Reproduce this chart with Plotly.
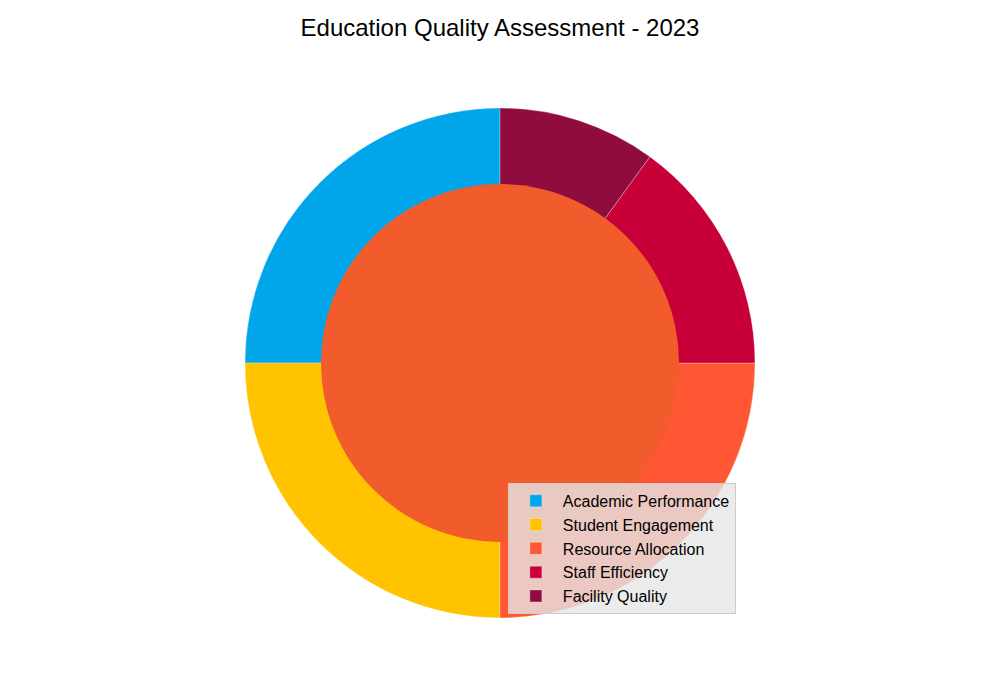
import plotly.graph_objects as go

categories = ["Academic Performance", "Student Engagement", "Resource Allocation",
              "Staff Efficiency", "Facility Quality"]
values = [25, 25, 25, 15, 10]
colors = ["#00A5EA", "#FFC300", "#FF5733", "#C70039", "#900C3F"]
inner_label = ["Overall"]
inner_value = [100]
inner_color = ["#F25C2C"]

fig = go.Figure()
fig.add_trace(go.Pie(
    labels=categories, values=values, sort=False, direction="counterclockwise",
    rotation=-90, marker=dict(colors=colors, line=dict(color="rgba(255,255,255,0.6)", width=0.5)),
    textinfo="none", domain=dict(x=[0, 1], y=[0, 1]), hoverinfo="label+percent",
))
fig.add_trace(go.Pie(
    labels=inner_label, values=inner_value, sort=False, showlegend=False,
    marker=dict(colors=inner_color, line=dict(width=0)), textinfo="none",
    domain=dict(x=[0.5 - 179 / 984, 0.5 + 179 / 984], y=[0.5 - 179 / 510, 0.5 + 179 / 510]),
    hoverinfo="skip",
))
fig.update_layout(
    width=1000, height=700,
    margin=dict(l=0, r=16, t=100, b=90),
    paper_bgcolor="white", plot_bgcolor="white",
    font=dict(family="Liberation Sans, Arial, sans-serif", color="black"),
    title=dict(text="Education Quality Assessment - 2023", x=0.492, xanchor="center",
               y=1 - 20 / 700, yanchor="middle", font=dict(size=24, color="black")),
    legend=dict(x=0.508, y=0.265, xanchor="left", yanchor="top",
                bgcolor="rgba(230,230,230,0.8)", bordercolor="#cccccc", borderwidth=1,
                font=dict(size=16, color="black"), itemwidth=44),
)
fig.write_html("out.html")
